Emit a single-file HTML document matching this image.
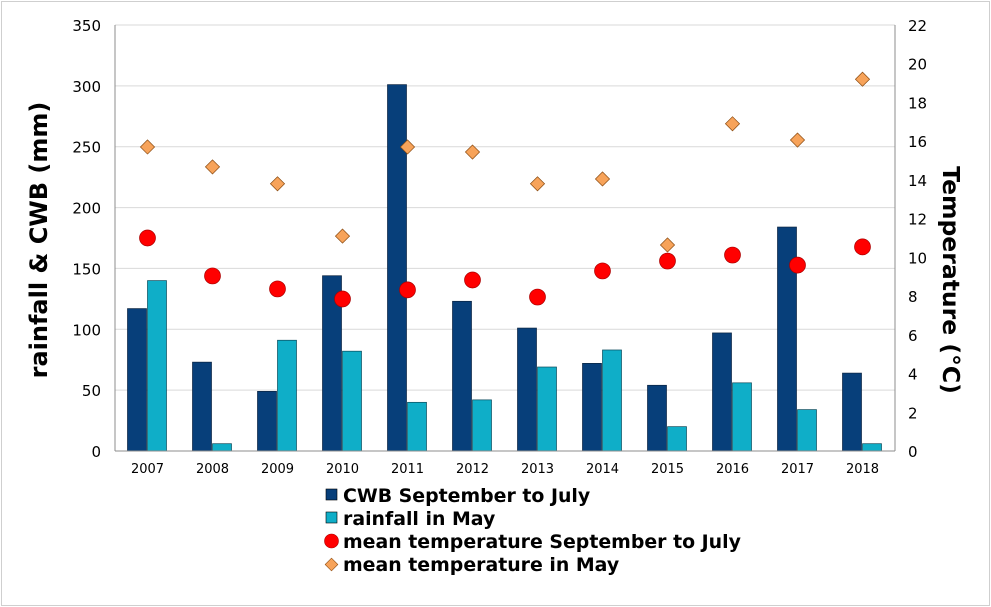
<!DOCTYPE html>
<html><head><meta charset="utf-8"><style>
body{margin:0;background:#fff;}
svg{display:block;font-family:"DejaVu Sans","Liberation Sans",sans-serif;}
</style></head><body>
<svg id="chart" width="991" height="607" viewBox="0 0 991 607">
<rect x="1.5" y="1.5" width="988" height="604" fill="#fff" stroke="#cfcfcf"/>
<g id="grid"></g><g id="bars"></g><g id="marks"></g><g id="axes"></g>
<text transform="translate(47,240) rotate(-90)" text-anchor="middle" font-size="24" font-weight="bold">rainfall &amp; CWB (mm)</text>
<text transform="translate(943,280) rotate(90)" text-anchor="middle" font-size="23.5" font-weight="bold">Temperature (°C)</text>
<g font-size="18.9" font-weight="bold">
<g><rect x="326" y="489" width="11" height="11" fill="#073f7a" stroke="#000" stroke-width="0.6"/><text x="343" y="502">CWB September to July</text></g>
<g><rect x="326" y="512" width="11" height="11" fill="#0faec8" stroke="#000" stroke-width="0.6"/><text x="343" y="525">rainfall in May</text></g>
<g><circle cx="331.5" cy="541" r="7" fill="#f00" stroke="#a00" stroke-width="0.6"/><text x="343" y="548">mean temperature September to July</text></g>
<g><rect x="327" y="560" width="9" height="9" transform="rotate(45 331.5 564.5)" fill="#f7a35a" stroke="#8a4a10" stroke-width="0.6"/><text x="343" y="571">mean temperature in May</text></g>
</g>
</svg>
<script>
const years=["2007","2008","2009","2010","2011","2012","2013","2014","2015","2016","2017","2018"];
const cwb=[117,73,49,144,301,123,101,72,54,97,184,64];
const rainMay=[140,6,91,82,40,42,69,83,20,56,34,6];
const tempSepJul=[11.0,9.04,8.37,7.85,8.32,8.83,7.95,9.3,9.81,10.12,9.6,10.54];
const tempMay=[15.7,14.67,13.8,11.1,15.7,15.44,13.8,14.05,10.64,16.9,16.06,19.2];
const leftTicks=[0,50,100,150,200,250,300,350];
const rightTicks=[0,2,4,6,8,10,12,14,16,18,20,22];
const X0=115,X1=895,Y0=451,Y1=25;
const ns="http://www.w3.org/2000/svg";
function yL(v){return Y0-(v/350)*(Y0-Y1);}
function yR(v){return Y0-(v/22)*(Y0-Y1);}
function xC(i){return X0+(i+0.5)*(X1-X0)/years.length;}
function mk(p,tag,a){const e=document.createElementNS(ns,tag);for(const k in a)e.setAttribute(k,a[k]);document.getElementById(p).appendChild(e);return e;}
leftTicks.forEach(t=>{
 if(t>0){const g=mk("grid","line",{x1:X0,x2:X1,y1:yL(t),y2:yL(t),stroke:"#d9d9d9","stroke-width":1});
 
 }
 const l=mk("axes","text",{x:X0-14,y:yL(t)+6,"text-anchor":"end","font-size":15});l.textContent=t;
 
 
});
rightTicks.forEach(t=>{
 const l=mk("axes","text",{x:X1+13,y:yR(t)+6,"font-size":15});l.textContent=t;
 
 
});
[["axis-left",X0,Y1,X0,Y0],["axis-right",X1,Y1,X1,Y0],["x-axis",X0,Y0,X1,Y0]].forEach(a=>{
 const l=mk("axes","line",{x1:a[1],y1:a[2],x2:a[3],y2:a[4],stroke:"#8c8c8c","stroke-width":1});
 
 
});
years.forEach((y,i)=>{
 const c=xC(i);
 const t=mk("axes","text",{x:c,y:Y0+22,"text-anchor":"middle","font-size":13});t.textContent=y;
 
 
 const b1=mk("bars","rect",{x:c-20,y:yL(cwb[i]),width:19,height:Y0-yL(cwb[i]),fill:"#073f7a",stroke:"#0a2340","stroke-width":0.7});
 
 
 const b2=mk("bars","rect",{x:c,y:yL(rainMay[i]),width:19,height:Y0-yL(rainMay[i]),fill:"#0faec8",stroke:"#0a4a5a","stroke-width":0.7});
 
 
 const d=mk("marks","rect",{x:c-5,y:yR(tempMay[i])-5,width:10,height:10,transform:"rotate(45 "+c+" "+yR(tempMay[i])+")",fill:"#f7a35a",stroke:"#8a4a10","stroke-width":0.7});
 
 
 const p=mk("marks","circle",{cx:c,cy:yR(tempSepJul[i]),r:8,fill:"#f00",stroke:"#a00","stroke-width":0.7});
 
 
});
</script>
</body></html>
